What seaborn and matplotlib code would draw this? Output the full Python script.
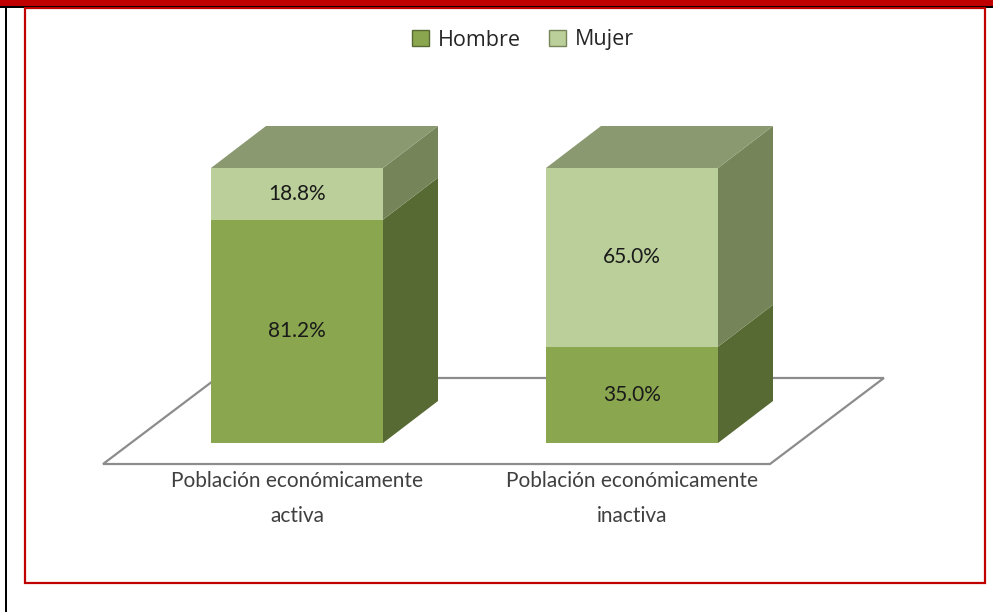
import matplotlib
matplotlib.use("Agg")
import matplotlib.pyplot as plt
import seaborn as sns
import pandas as pd
from matplotlib.patches import Polygon, Rectangle, Patch

# data
categories = ["Población económicamente\nactiva", "Población económicamente\ninactiva"]
hombre = [81.2, 35.0]
mujer = [18.8, 65.0]
series_names = ["Hombre", "Mujer"]

# colours (front, side, top)
c_hombre = ("#8aa64e", "#586a33", "#6f7f4a")
c_mujer = ("#bacf99", "#768559", "#8a9970")

sns.set_theme(style="white")
plt.rcParams["font.family"] = ["Lato", "DejaVu Sans"]

fig = plt.figure(figsize=(9.93, 6.12), dpi=100)
ax = fig.add_axes([0, 0, 1, 1])

# pixel -> data mapping: x center of cat0 at px 297, 335 px per category; y=0 at px 443, 2.75 px per %
px_x0, px_dx = 297, 335.0
px_y0, px_dy = 443, 2.75

bar_w = 172 / px_dx
dep_x = 55 / px_dx
dep_y = 42 / px_dy

# floor
floor = Polygon([(-0.579, -7.64), (1.412, -7.64), (1.752, 23.64), (-0.239, 23.64)],
                closed=True, facecolor="white", edgecolor="#8c8c8c", lw=1.6, zorder=1)
ax.add_patch(floor)

df = pd.DataFrame({"cat": categories, "Hombre": hombre, "Total": [h + m for h, m in zip(hombre, mujer)]})
sns.barplot(data=df, x="cat", y="Total", color=c_mujer[0], width=bar_w, ax=ax, zorder=3,
            saturation=1, linewidth=0, edgecolor="none")
sns.barplot(data=df, x="cat", y="Hombre", color=c_hombre[0], width=bar_w, ax=ax, zorder=4,
            saturation=1, linewidth=0, edgecolor="none")
ax.set_xlim(-px_x0 / px_dx, (993 - px_x0) / px_dx)
ax.set_ylim((px_y0 - 612) / px_dy, px_y0 / px_dy)
ax.axis("off")

for i, (h, m) in enumerate(zip(hombre, mujer)):
    x1 = i + bar_w / 2
    x0 = i - bar_w / 2
    # side faces
    ax.add_patch(Polygon([(x1, 0), (x1 + dep_x, dep_y), (x1 + dep_x, h + dep_y), (x1, h)],
                         facecolor=c_hombre[1], edgecolor="none", zorder=2.5))
    ax.add_patch(Polygon([(x1, h), (x1 + dep_x, h + dep_y), (x1 + dep_x, h + m + dep_y), (x1, h + m)],
                         facecolor=c_mujer[1], edgecolor="none", zorder=2.5))
    # top
    top = h + m
    ax.add_patch(Polygon([(x0, top), (x0 + dep_x, top + dep_y), (x1 + dep_x, top + dep_y), (x1, top)],
                         facecolor=c_mujer[2], edgecolor="none", zorder=2.5))
    # labels
    ax.text(i, h / 2, f"{h:.1f}%", ha="center", va="center", fontsize=15, color="#1a1a1a", zorder=6)
    ax.text(i, h + m / 2, f"{m:.1f}%", ha="center", va="center", fontsize=15, color="#1a1a1a", zorder=6)
    # category label, two lines
    line1, line2 = categories[i].split("\n")
    ax.text(i, (px_y0 - 481) / px_dy, line1, ha="center", va="center", fontsize=15,
            color="#404040", zorder=6)
    ax.text(i, (px_y0 - 516) / px_dy, line2, ha="center", va="center", fontsize=15,
            color="#404040", zorder=6)

handles = [Patch(facecolor=c_hombre[0], edgecolor=c_hombre[1]),
           Patch(facecolor=c_mujer[0], edgecolor=c_mujer[1])]
fig.legend(handles, series_names, loc="center", bbox_to_anchor=(523 / 993, 1 - 40 / 612), ncol=2,
           frameon=False, handlelength=0.8, handleheight=0.8, handletextpad=0.4,
           columnspacing=1.3, prop={"family": ["Open Sans", "DejaVu Sans"], "size": 15.5})

# frames
W, H = 993.0, 612.0
fig.patches.append(Rectangle((0, 1 - 6 / H), 1, 6 / H, transform=fig.transFigure,
                             facecolor="#c00000", edgecolor="none", zorder=0))
fig.patches.append(Rectangle((0, 1 - 8 / H), 1, 2 / H, transform=fig.transFigure,
                             facecolor="black", edgecolor="none", zorder=0))
fig.patches.append(Rectangle((5 / W, 0), 2 / W, 1 - 6 / H, transform=fig.transFigure,
                             facecolor="black", edgecolor="none", zorder=0))
fig.patches.append(Rectangle((25 / W, 1 - 583 / H), 960 / W, 575 / H, transform=fig.transFigure,
                             facecolor="none", edgecolor="#c00000", lw=1.6, zorder=0))

fig.savefig("out.png", dpi=100)
